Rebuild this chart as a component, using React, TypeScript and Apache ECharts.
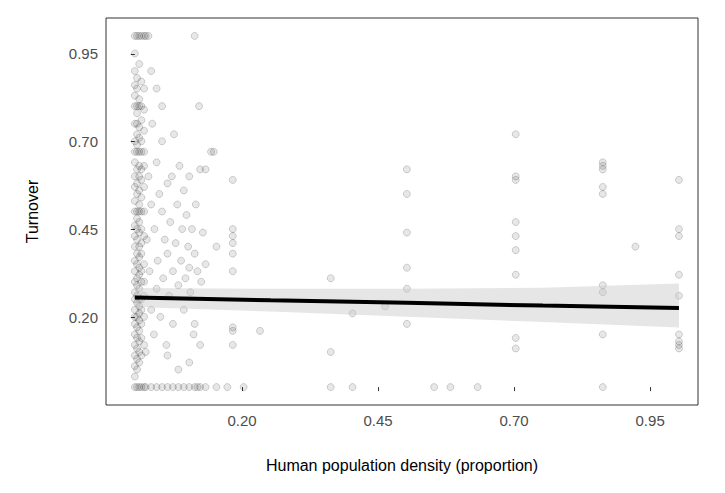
import React, { useRef, useEffect } from 'react';
import * as echarts from 'echarts';

// dense column near x = 0, one y list per x position
const columnX = [0.0, 0.004, 0.008, 0.012, 0.017];
const columnY = [
  [0, 0.03, 0.06, 0.09, 0.12, 0.15, 0.18, 0.2, 0.22, 0.25, 0.27, 0.3, 0.33, 0.36, 0.4, 0.43, 0.46, 0.5, 0.53, 0.57, 0.6, 0.64, 0.67, 0.7, 0.75, 0.8, 0.83, 0.86, 0.9, 0.95, 1.0],
  [0, 0.05, 0.08, 0.11, 0.14, 0.17, 0.2, 0.24, 0.26, 0.29, 0.31, 0.35, 0.38, 0.42, 0.45, 0.48, 0.5, 0.55, 0.58, 0.62, 0.67, 0.69, 0.72, 0.75, 0.78, 0.8, 0.85, 0.88, 1.0],
  [0, 0.07, 0.1, 0.13, 0.16, 0.19, 0.21, 0.23, 0.25, 0.28, 0.32, 0.34, 0.37, 0.4, 0.44, 0.47, 0.5, 0.52, 0.56, 0.6, 0.63, 0.67, 0.71, 0.74, 0.8, 0.82, 0.92, 1.0],
  [0, 0.09, 0.14, 0.18, 0.22, 0.25, 0.3, 0.33, 0.38, 0.41, 0.45, 0.5, 0.54, 0.59, 0.62, 0.67, 0.7, 0.76, 0.8, 0.87, 1.0],
  [0, 0.12, 0.2, 0.26, 0.3, 0.35, 0.43, 0.5, 0.57, 0.63, 0.67, 0.73, 0.79, 0.85, 1.0],
];

// scattered points away from the column
const scatterPoints: [number, number][] = [
  [0.02, 0.1], [0.022, 0.42], [0.025, 0.6], [0.027, 0.33], [0.03, 0.22], [0.03, 0.52], [0.032, 0.75], [0.035, 0.15],
  [0.036, 0.45], [0.04, 0.28], [0.04, 0.64], [0.042, 0.36], [0.045, 0.55], [0.047, 0.2], [0.05, 0.5], [0.05, 0.7],
  [0.052, 0.31], [0.055, 0.42], [0.058, 0.12], [0.06, 0.58], [0.06, 0.38], [0.063, 0.26], [0.065, 0.47], [0.068, 0.6],
  [0.07, 0.33], [0.07, 0.18], [0.072, 0.72], [0.075, 0.41], [0.078, 0.52], [0.08, 0.29], [0.082, 0.63], [0.085, 0.36],
  [0.087, 0.45], [0.09, 0.22], [0.09, 0.56], [0.093, 0.31], [0.095, 0.49], [0.098, 0.4], [0.1, 0.34], [0.1, 0.6],
  [0.102, 0.27], [0.105, 0.45], [0.108, 0.15], [0.11, 0.38], [0.11, 1.0], [0.112, 0.52], [0.115, 0.33], [0.118, 0.8],
  [0.12, 0.62], [0.122, 0.3], [0.125, 0.44], [0.13, 0.62], [0.14, 0.67], [0.145, 0.67], [0.15, 0.4], [0.1, 0.07],
  [0.06, 0.09], [0.08, 0.05], [0.04, 0.85], [0.03, 0.9], [0.05, 0.8], [0.12, 0.12], [0.11, 0.18], [0.13, 0.35],
  [0.18, 0.59], [0.18, 0.45], [0.18, 0.43], [0.18, 0.41], [0.18, 0.38], [0.18, 0.33], [0.18, 0.17], [0.18, 0.16],
  [0.18, 0.12], [0.23, 0.16], [0.36, 0.31], [0.36, 0.1], [0.4, 0.21], [0.46, 0.23], [0.5, 0.62], [0.5, 0.55],
  [0.5, 0.44], [0.5, 0.34], [0.5, 0.28], [0.5, 0.18], [0.7, 0.72], [0.7, 0.6], [0.7, 0.59], [0.7, 0.47],
  [0.7, 0.43], [0.7, 0.39], [0.7, 0.32], [0.7, 0.14], [0.7, 0.11], [0.86, 0.64], [0.86, 0.63], [0.86, 0.62],
  [0.86, 0.57], [0.86, 0.55], [0.86, 0.29], [0.86, 0.27], [0.86, 0.15], [0.92, 0.4], [1, 0.59], [1, 0.45],
  [1, 0.43], [1, 0.32], [1, 0.26], [1, 0.15], [1, 0.13], [1, 0.12], [1, 0.11],
];

// zero and one rows
const zeroRowX = [0.02, 0.03, 0.04, 0.05, 0.06, 0.07, 0.08, 0.09, 0.1, 0.11, 0.115, 0.12, 0.13, 0.15, 0.17, 0.2, 0.36, 0.4, 0.55, 0.58, 0.63, 0.86];
const oneRowX = [0.02, 0.025];

// fitted line and confidence band
const fitX = [0, 0.25, 0.5, 0.75, 1];
const fitY = [0.255, 0.247, 0.24, 0.232, 0.225];
const bandLow = [0.228, 0.215, 0.2, 0.185, 0.17];
const bandHigh = [0.282, 0.28, 0.28, 0.283, 0.295];

const App = () => {
  const chartRef = useRef(null);

  useEffect(() => {
    const myChart = echarts.init(chartRef.current, null, { renderer: 'svg' });

    const points: [number, number][] = [];
    columnX.forEach((x, i) => columnY[i].forEach((y) => points.push([x, y])));
    scatterPoints.forEach((p) => points.push(p));
    zeroRowX.forEach((x) => points.push([x, 0]));
    oneRowX.forEach((x) => points.push([x, 1]));

    const bandData = fitX.map((x, i) => [x, bandLow[i], bandHigh[i]]);

    const option = {
      animation: false,
      grid: {
        left: 106, right: 27, top: 18, bottom: 88,
        show: true, borderColor: '#333', borderWidth: 1, backgroundColor: '#fff',
      },
      xAxis: {
        type: 'value', min: -0.053, max: 1.035,
        interval: 0.25,
        name: 'Human population density (proportion)',
        nameLocation: 'middle', nameGap: 52,
        nameTextStyle: { color: '#000', fontSize: 16, fontFamily: 'Arial' },
        axisLine: { show: false },
        axisTick: { show: true, length: 4, lineStyle: { color: '#333' } },
        splitLine: { show: false },
        axisLabel: {
          color: '#4d4d4d', fontSize: 15, fontFamily: 'Arial', margin: 8,
          showMinLabel: false, showMaxLabel: false,
          formatter: (v: number) => v.toFixed(2),
        },
      },
      yAxis: {
        type: 'value', min: -0.051, max: 1.051,
        interval: 0.25,
        name: 'Turnover',
        nameLocation: 'middle', nameGap: 66,
        nameTextStyle: { color: '#000', fontSize: 16, fontFamily: 'Arial' },
        axisLine: { show: false },
        axisTick: { show: true, length: 4, lineStyle: { color: '#333' } },
        splitLine: { show: false },
        axisLabel: {
          color: '#4d4d4d', fontSize: 15, fontFamily: 'Arial', margin: 8,
          showMinLabel: false, showMaxLabel: false,
          formatter: (v: number) => v.toFixed(2),
        },
      },
      series: [
        {
          type: 'scatter',
          data: points,
          symbolSize: 7,
          itemStyle: { color: 'rgba(0,0,0,0.12)', borderColor: 'rgba(0,0,0,0.35)', borderWidth: 0.6 },
          z: 2,
        },
        {
          type: 'custom',
          data: bandData,
          z: 3,
          renderItem: (params: any, api: any) => {
            if (params.dataIndex !== 0) return null;
            const top = bandData.map((d) => api.coord([d[0], d[2]]));
            const bottom = bandData.map((d) => api.coord([d[0], d[1]])).reverse();
            return {
              type: 'polygon',
              shape: { points: top.concat(bottom) },
              style: { fill: 'rgba(200,200,200,0.45)' },
            };
          },
        },
        {
          type: 'line',
          data: fitX.map((x, i) => [x, fitY[i]]),
          symbol: 'none',
          lineStyle: { color: '#000', width: 4 },
          z: 4,
        },
      ],
    };

    myChart.setOption(option);
    return () => { myChart.dispose(); };
  }, []);

  return <div ref={chartRef} style={{ position: 'absolute', left: 0, top: 0, width: '725px', height: '493px' }} />;
};

export default App;
